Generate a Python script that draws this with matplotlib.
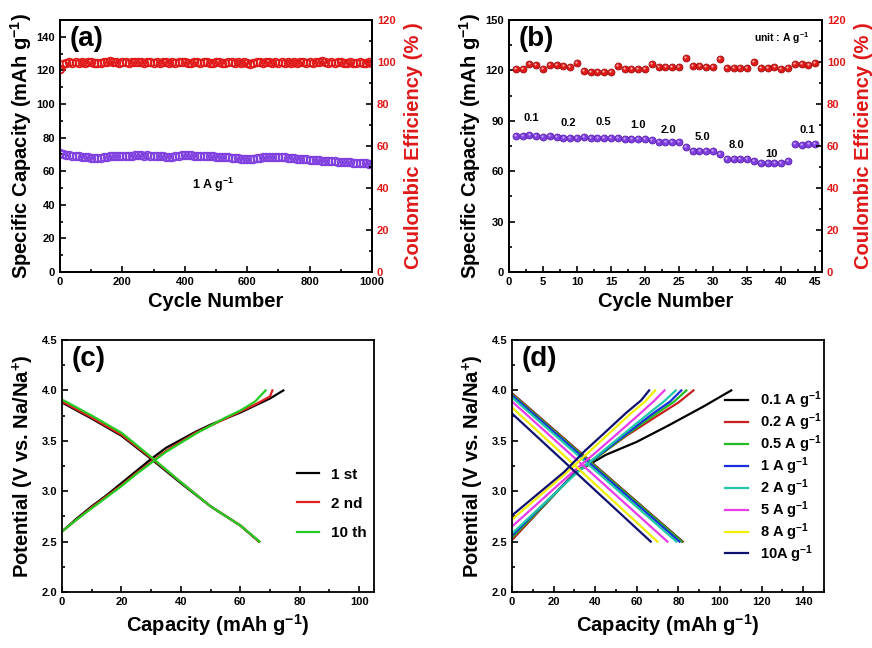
import numpy as np
import matplotlib
matplotlib.use("Agg")
import matplotlib.pyplot as plt
from matplotlib.ticker import MultipleLocator, AutoMinorLocator

plt.rcParams['font.family'] = ['Liberation Sans', 'DejaVu Sans']
plt.rcParams['font.weight'] = 'bold'
plt.rcParams['mathtext.fontset'] = 'custom'
plt.rcParams['mathtext.rm'] = 'Liberation Sans:bold'
plt.rcParams['mathtext.default'] = 'rm'

# ---------------- Data ----------------
# (a) long cycling at 1 A g-1 (sampled every 10 cycles)
cycles_a = list(range(0, 1001, 10))
cap_a = [70.6, 70.2, 69.8, 69.5, 69.2, 69.0, 68.8, 68.6, 68.4, 68.2,
         68.0, 67.7, 67.6, 67.9, 68.3, 68.6, 68.8, 68.9, 69.0, 69.1,
         69.1, 69.2, 69.3, 69.3, 69.4, 69.4, 69.4, 69.3, 69.4, 69.3,
         69.2, 69.1, 69.0, 68.9, 68.7, 68.5, 68.6, 68.9, 69.3, 69.6,
         69.8, 69.6, 69.4, 69.3, 69.1, 69.0, 68.9, 68.9, 68.8, 68.8,
         68.7, 68.6, 68.5, 68.4, 68.2, 68.0, 67.8, 67.6, 67.5, 67.5,
         67.5, 67.4, 67.5, 67.6, 67.8, 68.2, 68.4, 68.5, 68.4, 68.5,
         68.4, 68.3, 68.2, 68.0, 67.8, 67.6, 67.4, 67.3, 67.1, 67.0,
         66.8, 66.7, 66.5, 66.4, 66.3, 66.2, 66.0, 65.9, 65.8, 65.7,
         65.6, 65.5, 65.4, 65.3, 65.1, 65.0, 64.8, 64.7, 64.6, 64.5,
         64.3]
ce_a = [96.5, 99.0, 99.5, 99.8, 99.6, 100.0, 99.7, 99.9, 99.5, 100.1,
        99.8, 99.6, 99.4, 99.7, 99.9, 99.8, 100.4, 100.2, 99.8, 99.6,
        99.9, 100.0, 99.7, 99.9, 100.1, 100.2, 99.8, 99.7, 99.9, 100.0,
        99.5, 99.8, 99.6, 99.9, 100.0, 99.7, 99.8, 99.6, 99.9, 100.1,
        99.8, 99.7, 99.5, 99.9, 99.8, 99.6, 99.9, 100.0, 99.7, 99.3,
        99.8, 100.0, 99.7, 99.6, 99.9, 99.8, 99.6, 99.9, 99.7, 99.8,
        99.4, 99.2, 99.7, 99.9, 99.8, 99.6, 99.8, 100.0, 99.7, 99.9,
        99.6, 99.8, 99.7, 99.9, 99.6, 99.8, 99.7, 99.9, 99.8, 99.6,
        99.9, 99.7, 99.8, 100.0, 100.6, 99.9, 99.7, 99.8, 99.6, 99.9,
        99.8, 99.7, 99.5, 99.8, 99.7, 99.6, 99.8, 99.7, 99.6, 99.8,
        99.7]

# (b) rate performance
cycles_b = list(range(1, 46))
cap_b = [80.9, 81.0, 81.5, 81.0, 80.5, 81.0, 80.5, 80.0, 80.0, 79.8,
         80.5, 80.0, 80.0, 80.0, 80.0, 79.5, 79.0, 79.0, 79.0, 79.0,
         78.5, 77.3, 77.3, 77.3, 77.3, 74.5, 72.0, 72.0, 72.0, 72.0,
         70.0, 67.5, 67.5, 67.5, 67.5, 66.0, 65.0, 65.0, 65.0, 64.8,
         66.0, 76.1, 75.8, 76.0, 76.0]
ce_b = [96.7, 96.7, 98.9, 98.7, 96.7, 98.7, 98.7, 98.3, 97.8, 99.7,
        95.9, 95.1, 95.1, 95.1, 95.1, 98.1, 96.7, 96.7, 96.7, 96.5,
        99.2, 97.8, 97.8, 97.8, 97.8, 101.7, 98.1, 98.1, 97.8, 97.6,
        101.3, 97.3, 97.3, 97.3, 97.3, 100.0, 97.3, 97.3, 97.6, 96.8,
        97.3, 99.2, 98.9, 98.4, 99.5]
rate_labels = ["0.1", "0.2", "0.5", "1.0", "2.0", "5.0", "8.0", "10", "0.1"]
rate_label_x = [3.2, 8.7, 13.8, 18.9, 23.5, 28.5, 33.5, 38.6, 43.8]
rate_label_y = [91.5, 88.5, 89.5, 87.5, 84.5, 80.5, 75.5, 70.5, 84.5]

# (c) charge/discharge profiles at different cycles
c_names = ["1 st", "2 nd", "10 th"]
c_colors = ["black", "#e02020", "#22cc22"]
c_chg_cap = [[0, 5, 10, 15, 20, 25, 30, 35, 40, 45, 50, 55, 60, 65, 70, 74.5],
             [0, 5, 10, 15, 20, 25, 30, 35, 40, 45, 50, 55, 60, 65, 70, 70.8],
             [0, 5, 10, 15, 20, 25, 30, 35, 40, 45, 50, 55, 60, 65, 68.5]]
c_chg_v = [[2.60, 2.73, 2.85, 2.96, 3.08, 3.20, 3.32, 3.43, 3.51, 3.59, 3.66, 3.72, 3.78, 3.85, 3.92, 4.00],
           [2.60, 2.72, 2.84, 2.95, 3.06, 3.18, 3.29, 3.40, 3.49, 3.58, 3.65, 3.72, 3.79, 3.86, 3.94, 4.00],
           [2.60, 2.72, 2.83, 2.94, 3.05, 3.17, 3.28, 3.39, 3.48, 3.57, 3.65, 3.73, 3.80, 3.89, 4.00]]
c_dis_cap = [[0, 10, 20, 30, 40, 50, 60, 66.3],
             [0, 10, 20, 30, 40, 50, 60, 66.3],
             [0, 10, 20, 30, 40, 50, 60, 66.5]]
c_dis_v = [[3.88, 3.72, 3.55, 3.32, 3.08, 2.85, 2.66, 2.50],
           [3.89, 3.73, 3.56, 3.33, 3.09, 2.85, 2.66, 2.50],
           [3.91, 3.75, 3.58, 3.34, 3.09, 2.85, 2.66, 2.50]]

# (d) charge/discharge profiles at different rates
d_names = ["0.1 A g$^{-1}$", "0.2 A g$^{-1}$", "0.5 A g$^{-1}$", "1 A g$^{-1}$",
           "2 A g$^{-1}$", "5 A g$^{-1}$", "8 A g$^{-1}$", "10A g$^{-1}$"]
d_colors = ["black", "#c82020", "#22bb22", "#1a2ee0", "#20c8a8", "#e83ce8",
            "#f0f000", "#101070"]
d_chg_start = [2.52, 2.52, 2.54, 2.56, 2.58, 2.65, 2.72, 2.76]
d_chg_end = [105.4, 87.2, 83.8, 81.4, 78.7, 73.3, 68.8, 65.9]
d_chg_mid_cap = [[30, 45, 60, 75, 92], [30, 45, 55, 70, 80], [30, 45, 55, 68, 78],
                 [30, 45, 55, 67, 76], [30, 42, 52, 65, 73], [28, 40, 50, 61, 68],
                 [26, 37, 46, 57, 64], [25, 35, 44, 55, 62]]
d_chg_mid_v = [[3.18, 3.36, 3.49, 3.65, 3.84], [3.18, 3.40, 3.55, 3.75, 3.88], [3.17, 3.40, 3.56, 3.75, 3.89],
               [3.17, 3.41, 3.57, 3.76, 3.89], [3.16, 3.37, 3.54, 3.76, 3.89], [3.17, 3.38, 3.56, 3.76, 3.89],
               [3.18, 3.39, 3.56, 3.77, 3.89], [3.19, 3.40, 3.57, 3.78, 3.90]]
d_dis_start = [3.97, 3.97, 3.96, 3.95, 3.93, 3.89, 3.83, 3.77]
d_dis_end = [82.0, 81.8, 81.5, 80.5, 79.0, 74.7, 69.9, 66.7]

# ---------------- Figure ----------------
fig = plt.figure(figsize=(8.72, 6.48), dpi=100)
red = "#e01818"
purple = "#8040e0"

axpos = {"a": [0.0688, 0.5802, 0.3578, 0.3889],
         "b": [0.5837, 0.5802, 0.3589, 0.3889],
         "c": [0.0711, 0.0864, 0.3578, 0.3889],
         "d": [0.5872, 0.0864, 0.3578, 0.3889]}

def style(ax):
    for s in ax.spines.values():
        s.set_linewidth(1.3)
    ax.tick_params(which='both', direction='in', top=False, right=False,
                   labelsize=8, width=1.2)
    ax.tick_params(which='major', length=4)
    ax.tick_params(which='minor', length=2.5)
    ax.xaxis.set_minor_locator(AutoMinorLocator(2))
    ax.yaxis.set_minor_locator(AutoMinorLocator(2))
    for lab in ax.get_xticklabels() + ax.get_yticklabels():
        lab.set_fontweight('bold')

def style_right(ax2):
    ax2.tick_params(which='both', direction='in', left=False, right=True,
                    labelsize=8, width=1.2, labelcolor=red)
    ax2.tick_params(which='major', length=4)
    ax2.tick_params(which='minor', length=2.5)
    ax2.yaxis.set_minor_locator(AutoMinorLocator(2))
    ax2.set_ylim(0, 120)
    ax2.yaxis.set_major_locator(MultipleLocator(20))
    for lab in ax2.get_yticklabels():
        lab.set_fontweight('bold')
    for s in ax2.spines.values():
        s.set_linewidth(1.3)

lab_fs = 14.5

# (a)
ax = fig.add_axes(axpos["a"])
ax.plot(cycles_a, cap_a, 'o', mfc='none', mec=purple, ms=5.5, mew=1.3)
ax.set_xlim(0, 1000); ax.set_ylim(0, 150)
ax.xaxis.set_major_locator(MultipleLocator(200))
ax.set_yticks(range(0, 141, 20))
style(ax)
ax.set_xlabel("Cycle Number", fontsize=lab_fs, fontweight='bold', labelpad=4)
ax.set_ylabel("Specific Capacity (mAh g$^{-1}$)", fontsize=lab_fs, fontweight='bold', labelpad=2)
ax.text(0.03, 0.975, "(a)", transform=ax.transAxes, fontsize=20, fontweight='bold', va='top')
ax.text(490, 52, "1 A g$^{-1}$", fontsize=9, fontweight='bold', ha='center', va='center')
ax2 = ax.twinx()
ax2.plot(cycles_a, ce_a, 'o', mfc='none', mec=red, ms=5.5, mew=1.3)
style_right(ax2)
ax2.set_ylabel("Coulombic Efficiency (% )", fontsize=lab_fs, fontweight='bold', color=red, labelpad=6)

# (b)
ax = fig.add_axes(axpos["b"])
ax.plot(cycles_b, cap_b, 'o', color=purple, mec="#5a20b0", ms=5.0, mew=0.6)
ax.plot(np.array(cycles_b) - 0.12, np.array(cap_b) + 0.6, 'o', color="#c8a8ff", ms=1.6, mew=0)
ax.set_xlim(0, 46); ax.set_ylim(0, 150)
ax.xaxis.set_major_locator(MultipleLocator(5))
ax.yaxis.set_major_locator(MultipleLocator(30))
style(ax)
ax.set_xlabel("Cycle Number", fontsize=lab_fs, fontweight='bold', labelpad=4)
ax.set_ylabel("Specific Capacity (mAh g$^{-1}$)", fontsize=lab_fs, fontweight='bold', labelpad=2)
ax.text(0.03, 0.975, "(b)", transform=ax.transAxes, fontsize=20, fontweight='bold', va='top')
for t, x, y in zip(rate_labels, rate_label_x, rate_label_y):
    ax.text(x, y, t, fontsize=8, fontweight='bold', ha='center', va='center')
ax.text(40.0, 139, "unit : A g$^{-1}$", fontsize=7.5, fontweight='bold', ha='center', va='center')
ax2 = ax.twinx()
ax2.plot(cycles_b, ce_b, 'o', color=red, mec="#a01010", ms=5.0, mew=0.6)
ax2.plot(np.array(cycles_b) - 0.12, np.array(ce_b) + 0.5, 'o', color="#ffb0b0", ms=1.6, mew=0)
style_right(ax2)
ax2.set_ylabel("Coulombic Efficiency (% )", fontsize=lab_fs, fontweight='bold', color=red, labelpad=6)

# (c)
ax = fig.add_axes(axpos["c"])
for i in range(3):
    ax.plot(c_chg_cap[i], c_chg_v[i], color=c_colors[i], lw=1.6, label=c_names[i])
    ax.plot(c_dis_cap[i], c_dis_v[i], color=c_colors[i], lw=1.6)
ax.set_xlim(0, 105); ax.set_ylim(2.0, 4.5)
ax.xaxis.set_major_locator(MultipleLocator(20))
ax.yaxis.set_major_locator(MultipleLocator(0.5))
style(ax)
ax.set_xlabel("Capacity (mAh g$^{-1}$)", fontsize=lab_fs, fontweight='bold', labelpad=4)
ax.set_ylabel("Potential (V vs. Na/Na$^{+}$)", fontsize=lab_fs, fontweight='bold', labelpad=4)
ax.text(0.03, 0.975, "(c)", transform=ax.transAxes, fontsize=20, fontweight='bold', va='top')
ax.legend(loc='center left', bbox_to_anchor=(0.71, 0.35), frameon=False,
          prop={'weight': 'bold', 'size': 11}, handlelength=1.4, labelspacing=1.0)

# (d)
ax = fig.add_axes(axpos["d"])
for i in range(8):
    xs = [0] + d_chg_mid_cap[i] + [d_chg_end[i]]
    ys = [d_chg_start[i]] + d_chg_mid_v[i] + [4.0]
    ax.plot(xs, ys, color=d_colors[i], lw=1.6, label=d_names[i])
    ax.plot([0, d_dis_end[i]], [d_dis_start[i], 2.5], color=d_colors[i], lw=1.6)
ax.set_xlim(0, 150); ax.set_ylim(2.0, 4.5)
ax.xaxis.set_major_locator(MultipleLocator(20))
ax.yaxis.set_major_locator(MultipleLocator(0.5))
style(ax)
ax.set_xlabel("Capacity (mAh g$^{-1}$)", fontsize=lab_fs, fontweight='bold', labelpad=4)
ax.set_ylabel("Potential (V vs. Na/Na$^{+}$)", fontsize=lab_fs, fontweight='bold', labelpad=4)
ax.text(0.03, 0.975, "(d)", transform=ax.transAxes, fontsize=20, fontweight='bold', va='top')
ax.legend(loc='center left', bbox_to_anchor=(0.64, 0.456), frameon=False,
          prop={'weight': 'bold', 'size': 10.5}, handlelength=1.6, labelspacing=0.02)

fig.savefig("out.png", dpi=100)
